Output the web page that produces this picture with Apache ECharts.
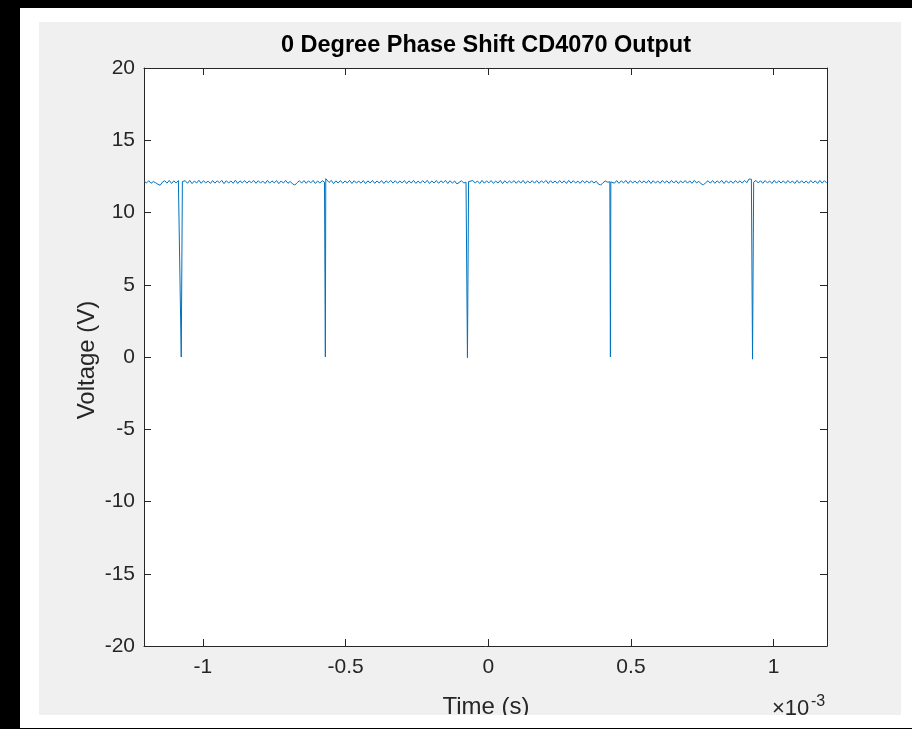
<!DOCTYPE html>
<html>
<head>
<meta charset="utf-8">
<script src="https://cdn.jsdelivr.net/npm/echarts@6/dist/echarts.min.js"></script>
<style>
  html, body { margin: 0; padding: 0; background: #000; }
  #chart { width: 912px; height: 729px; }
</style>
</head>
<body>
<div id="chart"></div>
<script>
// Time axis is in units of 1e-3 s (shown with a x10^-3 multiplier)
const tStart = -1.206;
const tStep = 0.008;

// Output voltage samples (V), one per tStep
const rippleVolts = [
  12.18, 12.04, 12.20, 12.02, 12.14, 12.06, 11.96, 11.88, 12.10, 12.20,
  12.03, 12.22, 12.01, 12.19, 12.05, 12.21, 12.10, 12.12, 12.20, 12.02,
  12.22, 12.00, 12.18, 12.04, 12.23, 12.02, 12.20, 12.05, 12.17, 12.01,
  12.21, 12.03, 12.19, 12.06, 12.22, 12.00, 12.20, 12.04, 12.18, 12.02,
  12.23, 12.01, 12.19, 12.05, 12.21, 12.03, 12.18, 12.06, 12.22, 12.02,
  12.20, 12.04, 12.17, 12.01, 12.22, 12.03, 12.19, 12.05, 12.21, 12.00,
  12.18, 12.04, 12.22, 12.02, 12.15, 11.98, 11.90, 12.06, 12.20, 12.03,
  12.21, 12.02, 12.19, 12.05, 12.22, 12.01, 12.18, 12.04, 12.20, 12.10,
  12.36, 12.08, 12.22, 12.00, 12.19, 12.04, 12.21, 12.02, 12.18, 12.05,
  12.22, 12.01, 12.20, 12.04, 12.17, 12.03, 12.21, 12.00, 12.19, 12.05,
  12.22, 12.02, 12.18, 12.04, 12.21, 12.01, 12.19, 12.06, 12.22, 12.03,
  12.20, 12.02, 12.18, 12.05, 12.21, 12.00, 12.19, 12.04, 12.22, 12.02,
  12.17, 12.03, 12.20, 12.05, 12.22, 12.01, 12.18, 12.04, 12.21, 12.02,
  12.19, 12.06, 12.22, 12.01, 12.20, 12.03, 12.18, 11.98, 12.08, 12.20,
  12.04, 12.10, 12.20, 12.02, 12.21, 12.04, 12.18, 12.01, 12.22, 12.03,
  12.19, 12.05, 12.21, 12.02, 12.17, 12.04, 12.22, 12.00, 12.20, 12.03,
  12.18, 12.05, 12.21, 12.02, 12.19, 12.04, 12.22, 12.01, 12.18, 12.05,
  12.20, 12.03, 12.21, 12.02, 12.19, 12.06, 12.22, 12.01, 12.20, 12.04,
  12.18, 12.02, 12.21, 12.05, 12.19, 12.01, 12.22, 12.03, 12.20, 12.04,
  12.17, 12.02, 12.21, 12.05, 12.19, 12.03, 12.20, 12.04, 12.16, 11.97,
  11.90, 12.06, 12.18, 12.10, 12.12, 12.20, 12.03, 12.21, 12.02, 12.19,
  12.05, 12.22, 12.01, 12.20, 12.04, 12.18, 12.02, 12.21, 12.05, 12.19,
  12.03, 12.22, 12.01, 12.20, 12.04, 12.18, 12.02, 12.21, 12.05, 12.19,
  12.02, 12.22, 12.04, 12.20, 12.01, 12.18, 12.05, 12.21, 12.03, 12.19,
  12.02, 12.22, 12.04, 12.16, 11.98, 11.92, 12.06, 12.20, 12.03, 12.21,
  12.02, 12.19, 12.05, 12.22, 12.01, 12.20, 12.04, 12.18, 12.02, 12.21,
  12.05, 12.19, 12.03, 12.22, 12.06, 12.32, 12.10, 12.10, 12.22, 12.04,
  12.20, 12.02, 12.21, 12.05, 12.18, 12.01, 12.22, 12.03, 12.20, 12.04,
  12.19, 12.02, 12.21, 12.05, 12.18, 12.01, 12.22, 12.03, 12.20, 12.04,
  12.18, 12.02, 12.21, 12.05, 12.19, 12.01, 12.22, 12.03, 12.20, 12.04
];

// Narrow output dips (XOR glitches)
const spikeTimes      = [-1.076, -0.571, -0.073, 0.428, 0.926];
const spikeLows       = [0.0, 0.0, -0.05, 0.0, -0.15];
const spikeHalfWidths = [0.004, 0.0015, 0.004, 0.0015, 0.004];
const spikeEdgesBefore = [12.12, 12.12, 12.10, 12.12, 12.30];
const spikeEdgesAfter  = [12.14, 12.34, 12.14, 12.12, 12.10];

const xTicks = [-1, -0.5, 0, 0.5, 1];

const xMin = -1.2065, xMax = 1.187;
const yMin = -20, yMax = 20;

// Merge the sampled trace with the dips, ordered by time
const points = [];
rippleVolts.forEach((v, i) => {
  const t = tStart + i * tStep;
  const inDip = spikeTimes.some((s, k) => Math.abs(t - s) <= spikeHalfWidths[k]);
  if (!inDip) points.push([t, v]);
});
spikeTimes.forEach((s, k) => {
  points.push([s - spikeHalfWidths[k], spikeEdgesBefore[k]]);
  points.push([s, spikeLows[k]]);
  points.push([s + spikeHalfWidths[k], spikeEdgesAfter[k]]);
});
points.sort((a, b) => a[0] - b[0]);

const FONT = '"Liberation Sans", Arial, Helvetica, sans-serif';
const INK = '#262626';

const chart = echarts.init(document.getElementById('chart'), null, { renderer: 'canvas' });

const axisLineStyle = { show: true, onZero: false, lineStyle: { color: INK, width: 1 } };
const tickStyle = { show: true, inside: true, length: 7, lineStyle: { color: INK } };

chart.setOption({
  animation: false,
  backgroundColor: '#000',
  grid: {
    left: 144, right: 85, top: 68, bottom: 83,
    show: true, backgroundColor: '#fff', borderWidth: 0
  },
  xAxis: [
    {
      type: 'value', position: 'bottom', min: xMin, max: xMax,
      axisLine: axisLineStyle,
      axisTick: Object.assign({ customValues: xTicks }, tickStyle),
      axisLabel: {
        show: true, customValues: xTicks, margin: 11,
        fontSize: 21, color: INK, fontFamily: FONT,
        formatter: v => String(v)
      },
      splitLine: { show: false }
    },
    {
      type: 'value', position: 'top', min: xMin, max: xMax,
      axisLine: axisLineStyle,
      axisTick: Object.assign({ customValues: xTicks }, tickStyle),
      axisLabel: { show: false },
      splitLine: { show: false }
    }
  ],
  yAxis: [
    {
      type: 'value', position: 'left', min: yMin, max: yMax, interval: 5,
      axisLine: axisLineStyle,
      axisTick: tickStyle,
      axisLabel: {
        show: true, margin: 9, fontSize: 21, color: INK, fontFamily: FONT,
        formatter: v => String(v)
      },
      splitLine: { show: false }
    },
    {
      type: 'value', position: 'right', min: yMin, max: yMax, interval: 5,
      axisLine: axisLineStyle,
      axisTick: tickStyle,
      axisLabel: { show: false },
      splitLine: { show: false }
    }
  ],
  series: [
    {
      type: 'line',
      xAxisIndex: 0, yAxisIndex: 0,
      data: points,
      showSymbol: false,
      symbol: 'none',
      clip: true,
      lineStyle: { color: '#0072BD', width: 1 },
      z: 3
    }
  ],
  graphic: [
    { type: 'rect', z: -20, shape: { x: 20, y: 8, width: 892, height: 721 }, style: { fill: '#fff' } },
    { type: 'rect', z: -19, shape: { x: 39, y: 22, width: 862, height: 693 }, style: { fill: '#f0f0f0' } },
    {
      type: 'text', x: 486, y: 46, z: 10,
      style: {
        text: '0 Degree Phase Shift CD4070 Output',
        font: 'bold 23.5px ' + FONT, fill: '#000',
        textAlign: 'center', textVerticalAlign: 'middle'
      }
    },
    {
      type: 'text', x: 87, y: 360, rotation: Math.PI / 2, z: 10,
      style: {
        text: 'Voltage (V)', font: '24px ' + FONT, fill: INK,
        textAlign: 'center', textVerticalAlign: 'middle'
      }
    },
    {
      type: 'text', x: 486, y: 707, z: 10,
      style: {
        text: 'Time (s)', font: '24px ' + FONT, fill: INK,
        textAlign: 'center', textVerticalAlign: 'middle'
      }
    },
    {
      type: 'text', x: 772, y: 720, z: 10,
      style: {
        text: '\u00d710', font: '22px ' + FONT, fill: INK,
        textAlign: 'left', textVerticalAlign: 'bottom'
      }
    },
    {
      type: 'text', x: 811, y: 710, z: 10,
      style: {
        text: '-3', font: '16px ' + FONT, fill: INK,
        textAlign: 'left', textVerticalAlign: 'bottom'
      }
    },
    // lower white strip trims the bottom of the figure area
    { type: 'rect', z: 50, shape: { x: 20, y: 715, width: 892, height: 13 }, style: { fill: '#fff' } },
    { type: 'rect', z: 50, shape: { x: 0, y: 728, width: 912, height: 1 }, style: { fill: '#000' } }
  ]
});
</script>
</body>
</html>
